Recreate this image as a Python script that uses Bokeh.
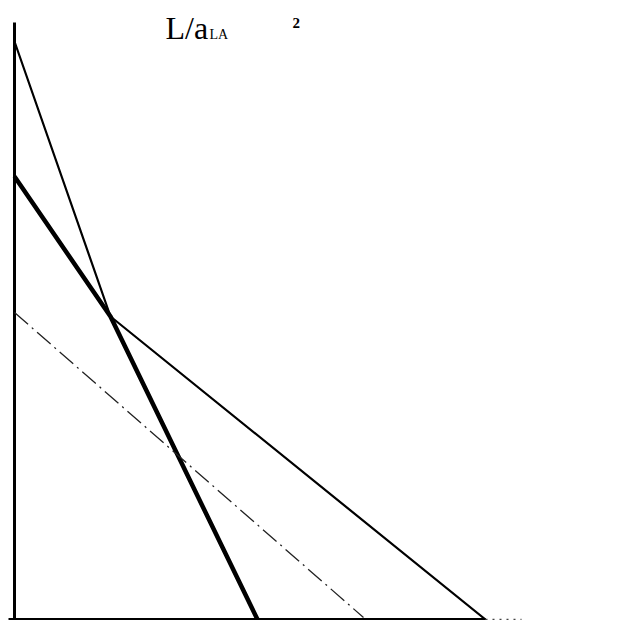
from bokeh.plotting import figure
from bokeh.models import Range1d
from bokeh.core.properties import value
from bokeh.embed import file_html
from bokeh.resources import INLINE

# Data (chart units: origin at the corner of the axes)
thin_x = [0, 96, 471]
thin_y = [578, 303, 0]

thick_x = [0, 96, 243]
thick_y = [443, 303, 0]

dash_x = [0, 349]
dash_y = [307, 2]

yaxis_x = [0, 0]
yaxis_y = [0, 597]
xaxis_x = [-6, 471]
xaxis_y = [0, 0]
xdot_x = [471, 507]
xdot_y = [0, 0]

label_main = "L/a"
label_sub = "LA"
label_sup = "2"

p = figure(width=622, height=620, output_backend="svg", toolbar_location=None,
           x_range=Range1d(-14, 608), y_range=Range1d(-1, 619),
           min_border=0, min_border_left=0, min_border_right=0,
           min_border_top=0, min_border_bottom=0)
p.axis.visible = False
p.grid.visible = False
p.outline_line_color = None
p.background_fill_color = "white"
p.border_fill_color = "white"

# axes
p.line(yaxis_x, yaxis_y, line_color="black", line_width=3)
p.line(xaxis_x, xaxis_y, line_color="black", line_width=3)
p.line(xdot_x, xdot_y, line_color="#444444", line_width=1.5, line_dash="2 5")

# curves
p.line(thin_x, thin_y, line_color="black", line_width=2.2)
p.line(thick_x, thick_y, line_color="black", line_width=4.5)
p.line(dash_x, dash_y, line_color="#222222", line_width=1.3, line_dash="18 5 2 5")

# labels
p.text(x=[151], y=[592], text=[label_main], text_font=value("Liberation Serif"),
       text_font_size="32px", text_color="black", text_baseline="middle",
       text_align="left")
p.text(x=[195], y=[585], text=[label_sub], text_font=value("Liberation Serif"),
       text_font_size="14px", text_color="black", text_baseline="middle",
       text_align="left")
p.text(x=[278], y=[597], text=[label_sup], text_font=value("Liberation Serif"),
       text_font_size="15px", text_font_style="bold", text_color="black",
       text_baseline="middle", text_align="left")

open("out.html", "w").write(file_html(p, INLINE))
